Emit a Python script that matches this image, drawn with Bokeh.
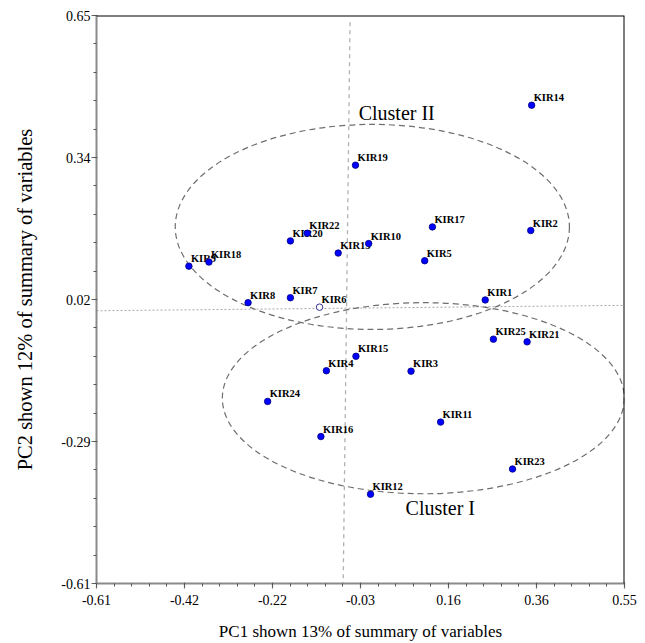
import numpy as np
from bokeh.plotting import figure
from bokeh.models import Range1d, FixedTicker, Span, ColumnDataSource
from bokeh.embed import file_html
from bokeh.resources import INLINE
from bokeh.core.properties import value

# ---- data ----
names = ["KIR1", "KIR2", "KIR3", "KIR4", "KIR5", "KIR6", "KIR7", "KIR8", "KIR9",
         "KIR10", "KIR11", "KIR12", "KIR13", "KIR14", "KIR15", "KIR16", "KIR17",
         "KIR18", "KIR19", "KIR20", "KIR21", "KIR22", "KIR23", "KIR24", "KIR25"]
pc1 = [0.244, 0.344, 0.081, -0.105, 0.111, -0.120, -0.184, -0.277, -0.407,
       -0.012, 0.146, -0.008, -0.079, 0.346, -0.040, -0.117, 0.128,
       -0.363, -0.041, -0.184, 0.336, -0.147, 0.304, -0.234, 0.262]
pc2 = [0.019, 0.173, -0.139, -0.138, 0.106, 0.003, 0.024, 0.013, 0.094,
       0.144, -0.252, -0.412, 0.123, 0.451, -0.106, -0.284, 0.181,
       0.103, 0.318, 0.150, -0.074, 0.167, -0.356, -0.206, -0.068]

cluster_names = ["Cluster II", "Cluster I"]
cluster_cx = [-0.004, 0.108]
cluster_cy = [0.181, -0.199]
cluster_w = [0.866, 0.883]
cluster_h = [0.455, 0.424]
cluster_label_x = [-0.034, 0.069]
cluster_label_y = [0.433, -0.442]

vline_x = [-0.053, -0.068]
vline_y = [0.635, -0.61]
hline_x = [-0.61, 0.55]
hline_y = [-0.005, 0.007]

x_tick_labels = ["-0.61", "-0.42", "-0.22", "-0.03", "0.16", "0.36", "0.55"]
y_tick_labels = ["-0.61", "-0.29", "0.02", "0.34", "0.65"]
x_min, x_max = -0.61, 0.55
y_min, y_max = -0.61, 0.65

FONT = "Liberation Serif"

p = figure(width=645, height=643,
           x_range=Range1d(x_min, x_max), y_range=Range1d(y_min, y_max),
           output_backend="svg", toolbar_location=None,
           min_border_left=96, min_border_right=21, min_border_top=15, min_border_bottom=58)
p.outline_line_color = None
p.grid.visible = False
p.background_fill_color = "white"
p.border_fill_color = "white"

# ticks
xt = [float(v) for v in np.linspace(x_min, x_max, len(x_tick_labels))]
xm = [float(v) for v in np.linspace(x_min, x_max, (len(x_tick_labels) - 1) * 5 + 1)]
yt = [float(v) for v in np.linspace(y_min, y_max, len(y_tick_labels))]
ym = [float(v) for v in np.linspace(y_min, y_max, (len(y_tick_labels) - 1) * 5 + 1)]
p.xaxis.ticker = FixedTicker(ticks=xt, minor_ticks=xm)
p.yaxis.ticker = FixedTicker(ticks=yt, minor_ticks=ym)
p.xaxis.major_label_overrides = {t: l for t, l in zip(xt, x_tick_labels)}
p.yaxis.major_label_overrides = {t: l for t, l in zip(yt, y_tick_labels)}

for ax in (p.xaxis, p.yaxis):
    ax.axis_line_color = "#8a8a8a"
    ax.axis_line_width = 2
    ax.major_tick_line_color = "#6a6a6a"
    ax.major_tick_line_width = 1.2
    ax.minor_tick_line_color = "#555555"
    ax.minor_tick_line_width = 1
    ax.major_tick_out = 5
    ax.major_tick_in = 1
    ax.minor_tick_out = 3
    ax.minor_tick_in = 0
    ax.major_label_text_font = FONT
    ax.major_label_text_font_size = "14px"
    ax.major_label_text_color = "black"
    ax.axis_label_text_font = FONT
    ax.axis_label_text_font_style = "normal"
    ax.axis_label_text_color = "black"

p.xaxis.axis_label = "PC1 shown 13% of summary of variables"
p.xaxis.axis_label_text_font_size = "17px"
p.xaxis.major_label_standoff = 6
p.xaxis.axis_label_standoff = 14
p.yaxis.axis_label = "PC2 shown 12% of summary of variables"
p.yaxis.axis_label_text_font_size = "20.5px"
p.yaxis.major_label_standoff = 1
p.yaxis.axis_label_standoff = 22

# top/right border lines
p.add_layout(Span(location=y_max, dimension="width", line_color="black", line_width=2))
p.add_layout(Span(location=x_max, dimension="height", line_color="black", line_width=2))

# reference lines
p.line(vline_x, vline_y, line_color="#b0b0b0", line_width=1.3, line_dash="4 4")
p.line(hline_x, hline_y, line_color="#a8a8a8", line_width=1, line_dash="2 2")

# cluster ellipses
p.ellipse(x=cluster_cx, y=cluster_cy, width=cluster_w, height=cluster_h, angle=0,
          fill_color=None, line_color="#6e6e6e", line_width=1.2, line_dash="6 4")
p.text(x=cluster_label_x, y=cluster_label_y, text=cluster_names,
       text_font=value(FONT), text_font_size="20px", text_color="black",
       text_baseline="middle", text_align="left")

# points
fills = ["white" if n == "KIR6" else "#0000ff" for n in names]
src = ColumnDataSource(dict(x=pc1, y=pc2, name=names, fill=fills))
p.text(x="x", y="y", text="name", source=src, x_offset=2, y_offset=-7.5,
       text_font=value(FONT), text_font_style="bold", text_font_size="10.5px",
       text_color="black", text_baseline="middle", text_align="left")
p.scatter(x="x", y="y", source=src, size=6.5, fill_color="fill",
          line_color="#00007a", line_width=0.8)

open("out.html", "w").write(file_html(p, INLINE))
